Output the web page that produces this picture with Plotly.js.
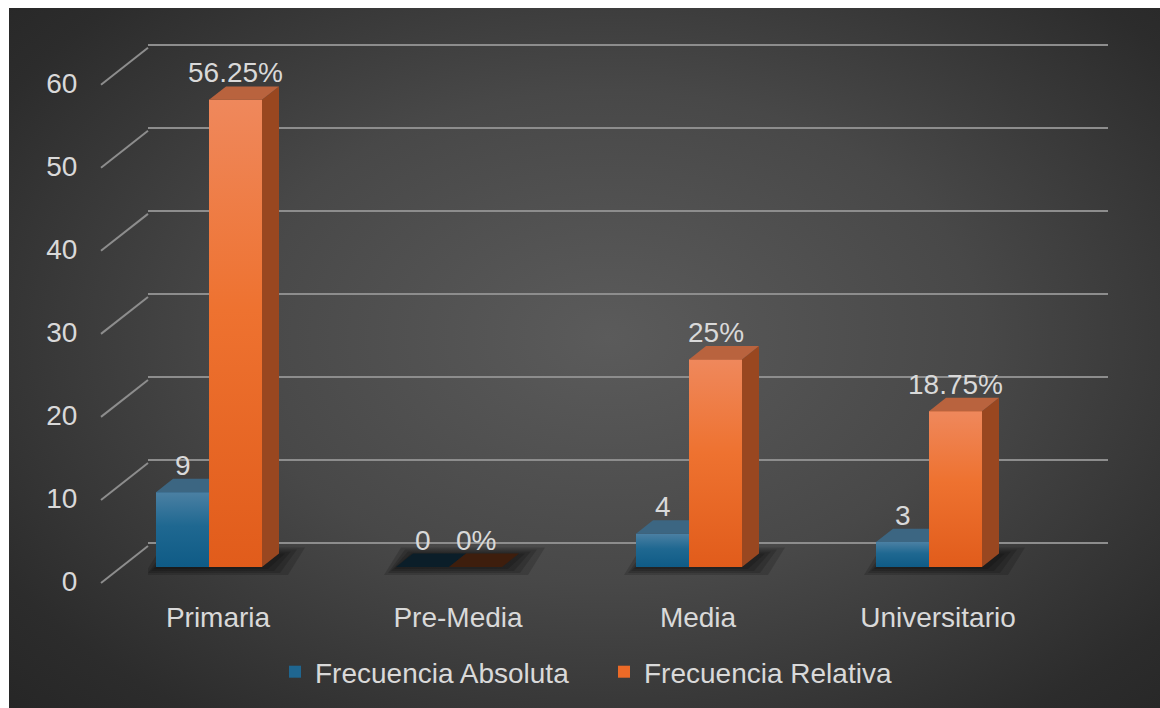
<!DOCTYPE html>
<html><head><meta charset="utf-8">
<script src="https://cdn.plot.ly/plotly-3.0.1.min.js"></script>
<style>
html,body{margin:0;padding:0;background:#ffffff;}
#chart{position:absolute;left:9px;top:8px;width:1151px;height:700px;
background: radial-gradient(ellipse 72% 78% at 52% 47%, #5b5b5b 0%, #484848 45%, #2c2c2c 85%, #262626 100%);}
</style></head><body><div id="chart"></div>
<script>
// ---------- data ----------
const categories = ['Primaria', 'Pre-Media', 'Media', 'Universitario'];
const absoluta = [9, 0, 4, 3];
const relativa = [56.25, 0, 25, 18.75];
const absolutaLabels = ['9', '0', '4', '3'];
const relativaLabels = ['56.25%', '0%', '25%', '18.75%'];
const yTicks = [0, 10, 20, 30, 40, 50, 60];
const seriesNames = ['Frecuencia Absoluta', 'Frecuencia Relativa'];

// ---------- geometry (reference pixels) ----------
const OX = 9, OY = 8;
const PL = 148, PR = 1108, PT = 30, PB = 588;
const K = 8.32;          // px per value unit
const XU = 240;          // px per category
const X0 = 218;          // category 0 label centre
const BAR = 53, DX = 17, DY = 13.5, SHIFT = 9;
const yr = p0 => [-(PB - p0) / K, (p0 - PT) / K];
const xRange = [-(X0 - PL) / XU, (PR - X0) / XU];
const w = BAR / XU, offB = -(BAR + SHIFT) / XU, offO = -SHIFT / XU;
const dx = DX / XU, dy = DY / K;
const px2paper = p => (p - PL) / (PR - PL);
const py2paper = p => (PB - p) / (PB - PT);

const FONT = 'Liberation Sans, Arial, sans-serif';
const FS = 28;
const TXT = '#d9d9d9';
const GRID = '#8d8d8d';

const idx = categories.map((c, i) => i);

// ---------- traces ----------
const traces = [
  {type: 'bar', name: seriesNames[0], x: idx, y: absoluta, width: w, offset: offB,
   marker: {color: '#1f6690', line: {width: 0}}, hoverinfo: 'skip', xaxis: 'x', yaxis: 'y'},
  {type: 'bar', name: seriesNames[1], x: idx, y: relativa, width: w, offset: offO,
   marker: {color: '#ec6a27', line: {width: 0}}, hoverinfo: 'skip', xaxis: 'x', yaxis: 'y'}
];
const blueScale = [[0, '#0f5b86'], [0.55, '#1f6891'], [1, '#4b80a3']];
const orangeScale = [[0, '#e15c1b'], [0.55, '#ee7230'], [1, '#ef885c']];
function frontFace(i, v, off, scale) {
  const xl = i + off, xr = xl + w;
  return {type: 'scatter', mode: 'lines', x: [xl, xr, xr, xl, xl], y: [0, 0, v, v, 0],
    fill: 'toself', line: {width: 0, color: 'rgba(0,0,0,0)'},
    fillgradient: {type: 'vertical', colorscale: scale},
    showlegend: false, hoverinfo: 'skip', xaxis: 'x', yaxis: 'y'};
}
idx.forEach(i => { if (absoluta[i] > 0) traces.push(frontFace(i, absoluta[i], offB, blueScale)); });
idx.forEach(i => { if (relativa[i] > 0) traces.push(frontFace(i, relativa[i], offO, orangeScale)); });
traces.push({type: 'scatter', x: [], y: [], xaxis: 'x', yaxis: 'y2', showlegend: false, hoverinfo: 'skip'});
traces.push({type: 'scatter', x: [], y: [], xaxis: 'x', yaxis: 'y3', showlegend: false, hoverinfo: 'skip'});

// ---------- shapes ----------
const shapes = [];
const P = pts => 'M' + pts.map(p => p[0] + ',' + p[1]).join(' L') + ' Z';
// soft floor shadows (layered translucent parallelograms)
const shadowPads = [[12, 26, 8, 6], [8, 18, 6, 4], [5, 12, 4, 2], [2, 6, 2, 0]];
idx.forEach(i => {
  const xl = i + offB, xr = i + offO + w;
  shadowPads.forEach(sp => {
    const l = xl - sp[0] / XU, r = xr + dx + sp[1] / XU, b = -sp[2] / K, t = dy + sp[3] / K;
    shapes.push({type: 'path', xref: 'x', yref: 'y', layer: 'below',
      path: P([[l, b], [l + dx, t], [r, t], [r - dx, b]]),
      fillcolor: 'rgba(0,0,0,0.16)', line: {width: 0}});
  });
});
idx.forEach(i => {
  const vb = absoluta[i], vo = relativa[i];
  const bl = i + offB, br = bl + w;
  const ol = i + offO, or = ol + w;
  // blue top face (clipped where the taller orange front hides it)
  const bTop = vo > vb ? [[bl, vb], [bl + dx, vb + dy], [br, vb + dy], [br, vb]]
                       : [[bl, vb], [bl + dx, vb + dy], [br + dx, vb + dy], [br, vb]];
  shapes.push({type: 'path', xref: 'x', yref: 'y', layer: 'above', path: P(bTop),
    fillcolor: vb > 0 ? '#3c6682' : '#0b1e29', line: {width: 0}});
  if (vb > vo && vb > 0) {
    shapes.push({type: 'path', xref: 'x', yref: 'y', layer: 'above',
      path: P([[br, 0], [br, vb], [br + dx, vb + dy], [br + dx, dy]]),
      fillcolor: '#174e6e', line: {width: 0}});
  }
  // orange side and top faces
  if (vo > 0) {
    shapes.push({type: 'path', xref: 'x', yref: 'y', layer: 'above',
      path: P([[or, 0], [or, vo], [or + dx, vo + dy], [or + dx, dy]]),
      fillcolor: '#994720', line: {width: 0}});
  }
  shapes.push({type: 'path', xref: 'x', yref: 'y', layer: 'above',
    path: P([[ol, vo], [ol + dx, vo + dy], [or + dx, vo + dy], [or, vo]]),
    fillcolor: vo > 0 ? '#b9633e' : '#3e1e0d', line: {width: 0}});
});
// side-wall diagonals from the front tick plane to the back wall gridlines
yTicks.forEach(v => {
  shapes.push({type: 'line', xref: 'paper', yref: 'y3',
    x0: px2paper(101), y0: v - 2 / K, x1: px2paper(148), y1: v + 35 / K,
    line: {color: GRID, width: 2}});
});

// ---------- annotations ----------
const annotations = [];
idx.forEach(i => {
  annotations.push({xref: 'x', yref: 'y', x: i + offB + w / 2, y: absoluta[i], yshift: 27,
    text: absolutaLabels[i], showarrow: false, yanchor: 'middle', xanchor: 'center',
    font: {family: FONT, size: FS, color: TXT}});
  annotations.push({xref: 'x', yref: 'y', x: i + offO + w / 2, y: relativa[i], yshift: 27,
    text: relativaLabels[i], showarrow: false, yanchor: 'middle', xanchor: 'center',
    font: {family: FONT, size: FS, color: TXT}});
});

const layout = {
  width: 1151, height: 700,
  margin: {l: PL - OX, r: 1160 - PR, t: PT - OY, b: 708 - PB, pad: 0},
  paper_bgcolor: 'rgba(0,0,0,0)', plot_bgcolor: 'rgba(0,0,0,0)',
  font: {family: FONT, color: TXT, size: FS},
  barmode: 'overlay',
  showlegend: true,
  legend: {orientation: 'h', x: px2paper(604), xanchor: 'center', y: py2paper(672), yanchor: 'middle',
    entrywidth: 284, itemwidth: 30, tracegroupgap: 0,
    font: {family: FONT, size: FS, color: TXT}, bgcolor: 'rgba(0,0,0,0)', itemclick: false, itemdoubleclick: false},
  xaxis: {range: xRange, tickvals: idx, ticktext: categories, showgrid: false, zeroline: false,
    showline: false, ticks: 'outside', ticklen: 5, tickcolor: 'rgba(0,0,0,0)', tickfont: {size: FS, color: TXT}, fixedrange: true},
  yaxis: {range: yr(568), showgrid: false, zeroline: false, showticklabels: false, showline: false, fixedrange: true},
  yaxis2: {range: yr(544), overlaying: 'y', anchor: 'x', side: 'left', tickvals: yTicks, showgrid: true, gridcolor: GRID,
    gridwidth: 2, zeroline: false, showticklabels: false, ticks: '', showline: false, fixedrange: true},
  yaxis3: {range: yr(582), overlaying: 'y', anchor: 'x', side: 'left', tickvals: yTicks, showgrid: false, zeroline: false,
    showline: false, ticks: 'outside', ticklen: 64, tickcolor: 'rgba(0,0,0,0)', tickfont: {size: FS, color: TXT}, fixedrange: true},
  shapes: shapes,
  annotations: annotations
};
Plotly.newPlot('chart', traces, layout, {displayModeBar: false, staticPlot: true});
</script></body></html>
